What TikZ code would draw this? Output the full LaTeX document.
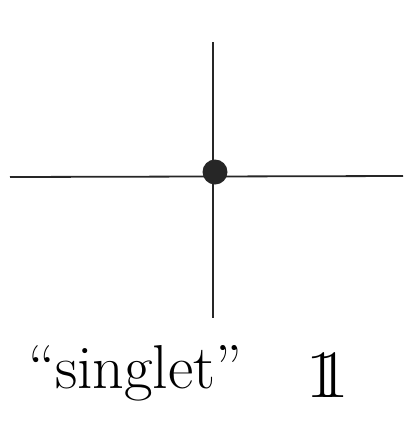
\documentclass[tikz,border=0pt]{standalone}
\begin{document}
\begin{tikzpicture}[x=1pt,y=-1pt,
  line/.style={line width=1.8pt, black!85},
  lbl/.style={inner sep=0pt, anchor=base west, font=\fontsize{62}{62}\selectfont}]
\useasboundingbox (0,0) rectangle (409,424);
\coordinate (top) at (213,42);
\coordinate (bot) at (213,318);
\coordinate (lft) at (10,177);
\coordinate (rgt) at (403,176);
\draw[line] (top) -- (bot);
\draw[line] (lft) -- (rgt);
\node[circle, fill=black!85, minimum size=25pt, inner sep=0pt] (dot) at (215,172) {};
\node[lbl] (txt) at (28,388) {``singlet''};
\node[lbl, font=\fontsize{68}{68}\selectfont] (one) at (306,397) {1\kern-0.3em1};
\end{tikzpicture}
\end{document}
